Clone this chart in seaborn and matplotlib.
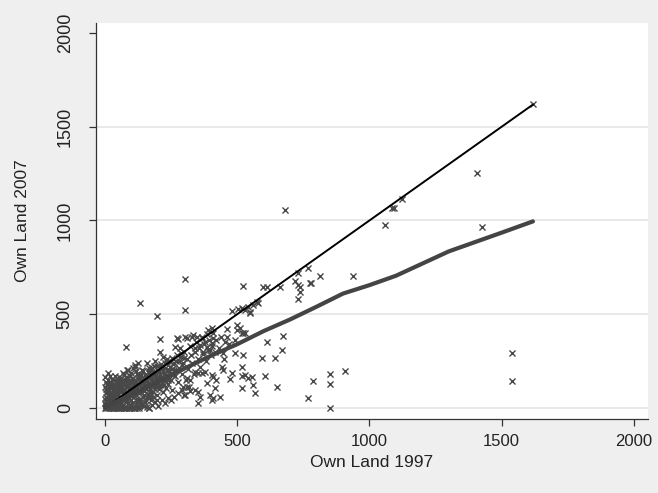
import matplotlib
matplotlib.use("Agg")
import matplotlib.pyplot as plt
import seaborn as sns
import pandas as pd

# Owned land (same households) in 1997 and 2007
small_1997 = [3, 10, 18, 25, 33, 40, 48, 55, 62, 70,
              78, 85, 92, 100, 108, 115, 122, 130, 159, 168,
              2, 5, 4, 6, 8, 10, 11, 12, 15, 14,
              18, 20, 22, 25, 28, 30, 32, 35, 36, 40,
              42, 44, 46, 50, 52, 55, 56, 60, 62, 65,
              68, 70, 72, 75, 78, 80, 84, 86, 88, 90,
              94, 96, 98, 100, 104, 106, 108, 110, 112, 115,
              118, 120, 122, 125, 126, 128, 132, 135, 138, 140,
              142, 145, 148, 150, 152, 155, 158, 160, 162, 165,
              168, 170, 172, 175, 178, 180, 182, 185, 188, 190,
              192, 195, 198, 200, 203, 205, 208, 210, 212, 215,
              218, 219, 222, 225, 228, 230, 234, 236, 238, 240,
              244, 248, 250, 253, 255, 258, 260, 79, 87, 113,
              5, 12, 20, 28, 35, 45, 52, 60, 68, 75,
              82, 90, 97, 105, 112, 120, 8, 16, 24, 31,
              38, 47, 54, 63, 71, 83, 95, 103, 117, 127,
              137, 147, 157, 167, 177, 187, 197, 207, 146, 134]
small_2007 = [0, 0, 0, 0, 0, 0, 0, 0, 0, 0,
              0, 0, 0, 0, 0, 0, 0, 0, 5, 0,
              15, 35, 60, 90, 120, 150, 186, 45, 75, 25,
              105, 130, 55, 10, 85, 40, 115, 150, 65, 20,
              95, 130, 50, 75, 165, 110, 30, 140, 60, 90,
              15, 120, 175, 45, 150, 80, 200, 25, 110, 55,
              135, 170, 85, 40, 215, 120, 65, 150, 230, 95,
              20, 180, 50, 239, 130, 80, 160, 105, 30, 205,
              60, 140, 90, 175, 115, 45, 150, 240, 75, 195,
              125, 100, 60, 165, 215, 140, 85, 190, 115, 250,
              160, 70, 225, 135, 100, 190, 298, 160, 120, 215,
              85, 271, 180, 145, 240, 105, 245, 200, 165, 130,
              220, 180, 150, 266, 95, 235, 200, 324, 202, 218,
              8, 20, 40, 70, 100, 30, 12, 45, 95, 65,
              35, 100, 15, 75, 125, 110, 100, 65, 50, 95,
              120, 85, 140, 110, 150, 120, 150, 95, 140, 175,
              135, 155, 120, 185, 150, 180, 125, 220, 10, 15]

core_1997 = [0, 1, 0, 2, 1, 3, 0, 4, 2, 6,
             12, 14, 16, 18, 20, 22, 24, 26, 28, 29,
             31, 33, 35, 37, 39, 41, 43, 45, 47, 49,
             51, 53, 55, 57, 59, 61, 63, 65, 67, 69,
             71, 73, 75, 77, 79, 81, 83, 85, 87, 89,
             91, 93, 95, 97, 99, 101, 103, 105, 107, 109,
             111, 113, 115, 117, 119, 121, 123, 125, 127, 129,
             131, 133, 135, 137, 139, 141, 143, 145, 147, 149,
             151, 154, 157, 160, 163, 166, 169, 172, 174, 176,
             179, 182, 185, 188, 191, 194, 196, 199, 202, 205,
             208, 212, 215, 219, 223, 227, 231, 235, 239, 243,
             247, 252, 257, 262, 268, 274, 280, 287, 293, 299]
core_2007 = [0, 25, 50, 80, 110, 140, 165, 10, 100, 130,
             5, 60, 95, 140, 170, 30, 115, 70, 155, 0,
             20, 95, 130, 55, 170, 5, 75, 110, 145, 35,
             0, 90, 125, 60, 160, 25, 105, 140, 75, 185,
             0, 100, 130, 60, 165, 30, 115, 145, 80, 175,
             0, 110, 140, 65, 185, 25, 100, 160, 85, 130,
             0, 110, 145, 70, 195, 35, 120, 160, 95, 10,
             50, 125, 175, 85, 150, 15, 110, 195, 70, 130,
             30, 100, 165, 60, 135, 215, 85, 180, 40, 120,
             155, 60, 225, 100, 180, 130, 45, 205, 160, 115,
             175, 235, 140, 195, 120, 215, 175, 260, 150, 200,
             245, 210, 175, 240, 205, 280, 250, 295, 230, 265]

mid_1997 = [265, 266, 270, 272, 275, 280, 284, 286, 290, 295,
            300, 302, 305, 310, 315, 320, 325, 329, 330, 335,
            340, 345, 350, 355, 360, 365, 370, 375, 380, 385,
            390, 395, 400, 405, 410, 415, 420, 430, 440, 450,
            460, 470, 490, 500, 276, 310, 208, 389, 499, 518,
            165, 178, 190, 200, 215, 225, 240, 250, 262, 275,
            290, 300, 310, 320,
            480, 503, 518, 529, 548, 541, 559, 578, 404, 510,
            522, 529, 461, 454, 333, 348, 367, 359, 378, 370,
            386, 340, 408, 404, 397, 612, 673, 669, 593, 643,
            491, 522, 446, 442, 446, 480, 472, 518, 529, 541,
            556, 518, 605, 518, 559, 567, 650, 340, 352, 367,
            378, 404, 408, 420, 310, 321, 318, 295, 302, 352,
            340, 359, 352, 386, 397, 408, 404, 435, 416]
mid_2007 = [324, 170, 250, 372, 140, 215, 319, 270, 180, 240,
            300, 378, 150, 260, 210, 330, 285, 378, 240, 180,
            300, 350, 260, 320, 220, 380, 290, 340, 250, 395,
            310, 360, 280, 330, 400, 300, 360, 320, 380, 260,
            420, 340, 360, 440, 367, 372, 367, 415, 415, 399,
            0, 15, 30, 10, 40, 25, 55, 45, 60, 80,
            95, 70, 110, 90,
            516, 527, 532, 521, 505, 537, 548, 559, 426, 426,
            399, 399, 378, 351, 388, 378, 372, 335, 351, 298,
            325, 319, 372, 346, 309, 351, 383, 309, 266, 266,
            293, 282, 293, 218, 202, 186, 154, 170, 176, 160,
            165, 218, 170, 106, 122, 80, 112, 191, 186, 186,
            191, 176, 165, 149, 160, 149, 112, 112, 69, 85,
            96, 59, 27, 133, 69, 53, 43, 59, 106]

large_1997 = [1618, 1406, 1425, 1058, 1085, 1092, 1123, 1538, 1538, 680,
              937, 813, 775, 767, 730, 718, 737, 737, 730, 597,
              612, 661, 574, 548, 302, 132, 522, 302, 197, 907,
              851, 851, 786, 767, 851, 779, 730]
large_2007 = [1623, 1255, 963, 973, 1064, 1064, 1112, 293, 144, 1053,
              702, 702, 665, 745, 718, 676, 644, 617, 580, 644,
              644, 644, 564, 511, 686, 559, 649, 521, 489, 197,
              181, 128, 144, 53, 0, 665, 654]

# Lowess smooth of 2007 holdings on 1997 holdings
lowess_1997 = [0, 100, 200, 300, 400, 500, 600, 700, 800, 900,
               1000, 1100, 1200, 1300, 1400, 1500, 1618]
lowess_2007 = [5, 72, 140, 210, 278, 340, 410, 472, 540, 610,
               655, 705, 770, 835, 885, 935, 995]

axis_ticks = [0, 500, 1000, 1500, 2000]

land = pd.DataFrame({
    "own97": small_1997 + core_1997 + mid_1997 + large_1997,
    "own07": small_2007 + core_2007 + mid_2007 + large_2007,
})
diag = [land["own97"].min(), land["own97"].max()]

sns.set_theme(style="white")
plt.rcParams["font.family"] = ["Liberation Sans", "DejaVu Sans"]

W, H = 658, 493
fig = plt.figure(figsize=(W / 100, H / 100), dpi=100, facecolor="#efefef")
ax = fig.add_axes([96 / W, 1 - 419 / H, (648 - 96) / W, (419 - 23) / H])
ax.set_facecolor("white")

for yv in axis_ticks[:-1]:
    ax.axhline(yv, color="#e9e9e9", lw=1.4, zorder=0)

sns.scatterplot(data=land, x="own97", y="own07", marker="x", s=19,
                color="#484848", linewidth=1.0, ax=ax, zorder=2, legend=False)
sns.lineplot(x=diag, y=diag, color="black", lw=1.4, ax=ax, zorder=3)
sns.lineplot(x=lowess_1997, y=lowess_2007, color="#444444", lw=3.0,
             ax=ax, zorder=4)

ax.set_xlim(-34, 2053)
ax.set_ylim(-59, 2053)
ax.set_xticks(axis_ticks)
ax.set_yticks(axis_ticks)
ax.set_xticklabels([str(t) for t in axis_ticks])
ax.set_yticklabels([str(t) for t in axis_ticks])

for side in ["top", "right"]:
    ax.spines[side].set_visible(False)
for side in ["left", "bottom"]:
    ax.spines[side].set_color("#333333")
    ax.spines[side].set_linewidth(0.9)

ax.tick_params(axis="x", direction="out", length=5, width=0.9, color="#333333",
               pad=6, labelsize=12, labelcolor="#222222", bottom=True)
ax.tick_params(axis="y", direction="out", length=5, width=0.9, color="#333333",
               pad=11, labelsize=13, labelcolor="#222222", left=True,
               labelrotation=90)
for lab in ax.get_yticklabels():
    lab.set_va("center")

ax.set_xlabel("Own Land 1997", fontsize=12.5, color="#222222", labelpad=4)
ax.set_ylabel("Own Land 2007", fontsize=12.5, color="#222222", labelpad=19)

fig.savefig("out.png", dpi=100, facecolor=fig.get_facecolor())
